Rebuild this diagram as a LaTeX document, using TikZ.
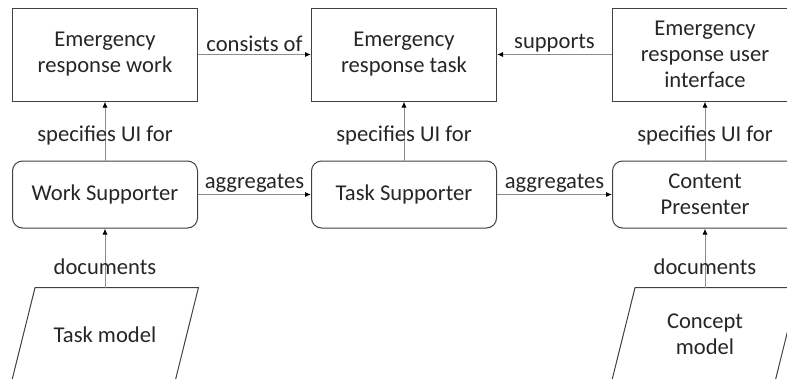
\documentclass[tikz,border=0pt]{standalone}
\usepackage{fontspec}
\setmainfont{Carlito}
\usetikzlibrary{positioning, arrows.meta}

\begin{document}
\begin{tikzpicture}[
    x=1pt, y=-1pt,
    >={Latex[length=6pt,width=5pt,color=black]},
    font=\fontsize{22.6}{26}\selectfont,
    % Styles for the kinds of elements
    concept/.style={rectangle, draw=black!75, line width=1pt, minimum width=185pt, minimum height=93pt, inner sep=2pt, align=center, text=black!85},
    agent/.style={concept, rounded corners=10pt, minimum height=67pt},
    model/.style={rectangle, minimum width=163pt, minimum height=94pt, inner sep=2pt, align=center, text=black!85},
    outline/.style={draw=black!75, line width=1pt},
    link/.style={->, draw=black!45, line width=1pt},
    lbl/.style={inner sep=2pt, text=black!85}
]
  \clip (0,0) rectangle (787,378);

  % --- TOP ROW: CONCEPTS ---
  \node[concept] (erw) at (105,54.5) {Emergency\\response work};
  \node[concept, right=113pt of erw] (ert) {Emergency\\response task};
  \node[concept, right=115pt of ert] (erui) {Emergency\\response user\\interface};

  % --- MIDDLE ROW: SUPPORTERS ---
  \node[agent, below=59pt of erw] (ws) {Work Supporter};
  \node[agent, below=59pt of ert] (ts) {Task Supporter};
  \node[agent, below=59pt of erui] (cp) {Content\\Presenter};

  % --- BOTTOM ROW: MODELS (slanted outlines) ---
  \node[model, below=59pt of ws] (tm) {Task model};
  \node[model, below=59pt of cp] (cm) {Concept\\model};
  \foreach \m in {tm, cm}
    \draw[outline] ([xshift=11.75pt]\m.north west) -- ([xshift=11.75pt]\m.north east)
      -- ([xshift=-11.75pt]\m.south east) -- ([xshift=-11.75pt]\m.south west) -- cycle;

  % --- EDGES ---
  \draw[link] (erw) -- node[lbl, above] {consists of} (ert);
  \draw[link] (erui) -- node[lbl, above] {supports} (ert);

  \draw[link] (ws) -- node[lbl, pos=0.42] {specifies UI for} (erw);
  \draw[link] (ts) -- node[lbl, pos=0.42] {specifies UI for} (ert);
  \draw[link] (cp) -- node[lbl, pos=0.42] {specifies UI for} (erui);

  \draw[link] (ws) -- node[lbl, above] {aggregates} (ts);
  \draw[link] (ts) -- node[lbl, above] {aggregates} (cp);

  \draw[link] (tm) -- node[lbl, pos=0.36] {documents} (ws);
  \draw[link] (cm) -- node[lbl, pos=0.36] {documents} (cp);

\end{tikzpicture}
\end{document}
